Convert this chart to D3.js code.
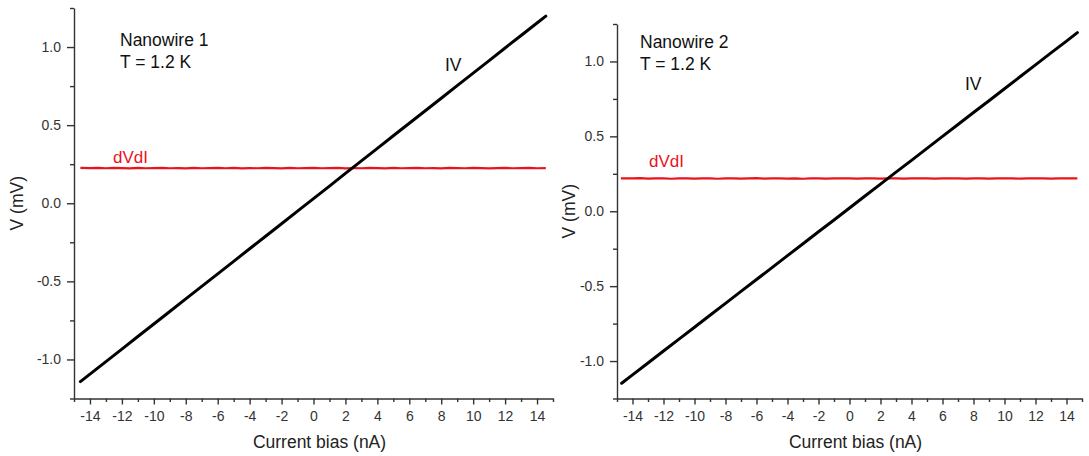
<!DOCTYPE html>
<html>
<head>
<meta charset="utf-8">
<script src="https://cdn.jsdelivr.net/npm/d3@7"></script>
<style>
  html, body { margin: 0; padding: 0; background: #fff; }
  svg { display: block; font-family: "Liberation Sans", Arial, sans-serif; }
</style>
</head>
<body>
<svg id="chart" width="1089" height="456"></svg>
<script>
// Nanowire 1: IV sweep (current in nA, voltage in mV)
const iv1Current = [-14.6, -14, -13, -12, -11, -10, -9, -8, -7, -6, -5, -4, -3, -2, -1, 0,
  1, 2, 3, 4, 5, 6, 7, 8, 9, 10, 11, 12, 13, 14, 14.55];
const iv1Voltage = [-1.142, -1.094, -1.014, -0.934, -0.853, -0.773, -0.693, -0.612, -0.532, -0.452,
  -0.372, -0.291, -0.211, -0.131, -0.050, 0.030, 0.110, 0.191, 0.271, 0.351, 0.432, 0.512,
  0.592, 0.672, 0.753, 0.833, 0.913, 0.994, 1.074, 1.154, 1.198];

// Nanowire 1: differential resistance trace (plotted on the mV axis)
const dv1Current = [-14.6, -14, -13.5, -13, -12.5, -12, -11.5, -11, -10.5, -10, -9.5, -9, -8.5, -8,
  -7.5, -7, -6.5, -6, -5.5, -5, -4.5, -4, -3.5, -3, -2.5, -2, -1.5, -1, -0.5, 0, 0.5, 1, 1.5, 2,
  2.5, 3, 3.5, 4, 4.5, 5, 5.5, 6, 6.5, 7, 7.5, 8, 8.5, 9, 9.5, 10, 10.5, 11, 11.5, 12, 12.5, 13,
  13.5, 14, 14.55];
const dv1Value = [0.226, 0.225, 0.227, 0.224, 0.226, 0.225, 0.223, 0.226, 0.224, 0.225, 0.227, 0.224,
  0.225, 0.223, 0.226, 0.224, 0.225, 0.227, 0.224, 0.226, 0.223, 0.225, 0.224, 0.226, 0.225, 0.223,
  0.226, 0.224, 0.225, 0.227, 0.224, 0.225, 0.226, 0.223, 0.225, 0.224, 0.226, 0.225, 0.223, 0.226,
  0.224, 0.225, 0.227, 0.224, 0.225, 0.223, 0.226, 0.225, 0.224, 0.226, 0.225, 0.223, 0.225, 0.226,
  0.224, 0.225, 0.226, 0.224, 0.225];

// Nanowire 2: IV sweep
const iv2Current = [-14.7, -14, -13, -12, -11, -10, -9, -8, -7, -6, -5, -4, -3, -2, -1, 0,
  1, 2, 3, 4, 5, 6, 7, 8, 9, 10, 11, 12, 13, 14, 14.7];
const iv2Voltage = [-1.148, -1.092, -1.013, -0.933, -0.854, -0.774, -0.694, -0.615, -0.535, -0.456,
  -0.376, -0.296, -0.217, -0.137, -0.058, 0.022, 0.102, 0.181, 0.261, 0.340, 0.420, 0.500,
  0.579, 0.659, 0.738, 0.818, 0.898, 0.977, 1.057, 1.136, 1.192];

// Nanowire 2: differential resistance trace
const dv2Current = [-14.75, -14, -13.5, -13, -12.5, -12, -11.5, -11, -10.5, -10, -9.5, -9, -8.5, -8,
  -7.5, -7, -6.5, -6, -5.5, -5, -4.5, -4, -3.5, -3, -2.5, -2, -1.5, -1, -0.5, 0, 0.5, 1, 1.5, 2,
  2.5, 3, 3.5, 4, 4.5, 5, 5.5, 6, 6.5, 7, 7.5, 8, 8.5, 9, 9.5, 10, 10.5, 11, 11.5, 12, 12.5, 13,
  13.5, 14, 14.7];
const dv2Value = [0.220, 0.219, 0.221, 0.218, 0.220, 0.219, 0.217, 0.220, 0.219, 0.218, 0.220, 0.219,
  0.217, 0.219, 0.220, 0.218, 0.219, 0.221, 0.218, 0.219, 0.220, 0.218, 0.219, 0.217, 0.219, 0.220,
  0.218, 0.219, 0.220, 0.219, 0.218, 0.220, 0.219, 0.218, 0.219, 0.220, 0.218, 0.219, 0.220, 0.219,
  0.218, 0.219, 0.220, 0.219, 0.218, 0.220, 0.219, 0.218, 0.219, 0.220, 0.219, 0.218, 0.219, 0.220,
  0.219, 0.218, 0.220, 0.219, 0.220];

// Axis ticks
const xMajorTicks = [-14, -12, -10, -8, -6, -4, -2, 0, 2, 4, 6, 8, 10, 12, 14];
const xMinorTicks = [-15, -13, -11, -9, -7, -5, -3, -1, 1, 3, 5, 7, 9, 11, 13, 15];
const yMajorTicks = [-1.0, -0.5, 0.0, 0.5, 1.0];
const yMinorTicks = [-1.25, -0.75, -0.25, 0.25, 0.75, 1.25];

const xTitle = "Current bias (nA)";
const yTitle = "V (mV)";

const panels = [
  {
    name: "Nanowire 1", temp: "T = 1.2 K",
    ivI: iv1Current, ivV: iv1Voltage, dvI: dv1Current, dvV: dv1Value,
    xRange: [74, 553], yRange: [398.5, 8],
    nameAt: [120, 45.5], ivAt: [445, 71], dvAt: [113, 163], yTitleX: 17
  },
  {
    name: "Nanowire 2", temp: "T = 1.2 K",
    ivI: iv2Current, ivV: iv2Voltage, dvI: dv2Current, dvV: dv2Value,
    xRange: [617, 1082], yRange: [398.5, 24],
    nameAt: [640, 48], ivAt: [965, 90], dvAt: [649, 166.5], yTitleX: 569
  }
];

const svg = d3.select("#chart");
const axisColor = "#333";
const textColor = "#333";
const red = "#e8141c";

// plain hyphen-minus for negative tick labels
const fmtX = d => String(d);
const fmtY = d => d.toFixed(1);

panels.forEach(p => {
  const x = d3.scaleLinear().domain([-15, 15]).range(p.xRange);
  const y = d3.scaleLinear().domain([-1.25, 1.25]).range(p.yRange);
  const g = svg.append("g");

  // x axis: major ticks with labels, minor ticks without
  g.append("g")
    .attr("transform", `translate(0,${p.yRange[0]})`)
    .call(d3.axisBottom(x).tickValues(xMajorTicks).tickSize(6).tickPadding(7)
      .tickSizeOuter(0).tickFormat(fmtX));
  g.append("g")
    .attr("transform", `translate(0,${p.yRange[0]})`)
    .call(d3.axisBottom(x).tickValues(xMinorTicks).tickSize(3.5).tickSizeOuter(0).tickFormat(""))
    .select(".domain").remove();

  // y axis
  g.append("g")
    .attr("transform", `translate(${p.xRange[0]},0)`)
    .call(d3.axisLeft(y).tickValues(yMajorTicks).tickSize(7).tickPadding(6)
      .tickSizeOuter(0).tickFormat(fmtY));
  g.append("g")
    .attr("transform", `translate(${p.xRange[0]},0)`)
    .call(d3.axisLeft(y).tickValues(yMinorTicks).tickSize(4).tickSizeOuter(0).tickFormat(""))
    .select(".domain").remove();

  g.selectAll(".domain, .tick line").attr("stroke", axisColor).attr("stroke-width", 1.4);
  g.selectAll(".tick text").attr("fill", textColor)
    .style("font-size", "14px").style("font-family", "Liberation Sans, Arial, sans-serif");

  // axis titles
  g.append("text")
    .attr("x", (p.xRange[0] + p.xRange[1]) / 2 + 6).attr("y", 448)
    .attr("text-anchor", "middle").attr("fill", "#222")
    .style("font-size", "17.5px").text(xTitle);
  g.append("text")
    .attr("transform", `translate(${p.yTitleX},${(p.yRange[0] + p.yRange[1]) / 2}) rotate(-90)`)
    .attr("text-anchor", "middle").attr("dy", "0.35em").attr("fill", "#222")
    .style("font-size", "17.5px").text(yTitle);

  const line = d3.line().x(d => x(d[0])).y(d => y(d[1]));

  // dV/dI trace
  g.append("path")
    .datum(p.dvI.map((c, i) => [c, p.dvV[i]]))
    .attr("fill", "none").attr("stroke", red).attr("stroke-width", 2.2)
    .attr("d", line);

  // IV trace
  g.append("path")
    .datum(p.ivI.map((c, i) => [c, p.ivV[i]]))
    .attr("fill", "none").attr("stroke", "#000").attr("stroke-width", 3)
    .attr("stroke-linecap", "round")
    .attr("d", line);

  // annotations
  const note = g.append("text")
    .attr("x", p.nameAt[0]).attr("y", p.nameAt[1])
    .attr("fill", "#111").style("font-size", "17.5px");
  note.append("tspan").attr("x", p.nameAt[0]).text(p.name);
  note.append("tspan").attr("x", p.nameAt[0]).attr("dy", 22).text(p.temp);

  g.append("text").attr("x", p.ivAt[0]).attr("y", p.ivAt[1])
    .attr("fill", "#111").style("font-size", "17.5px").text("IV");
  g.append("text").attr("x", p.dvAt[0]).attr("y", p.dvAt[1])
    .attr("fill", red).style("font-size", "17px").text("dVdI");
});
</script>
</body>
</html>
